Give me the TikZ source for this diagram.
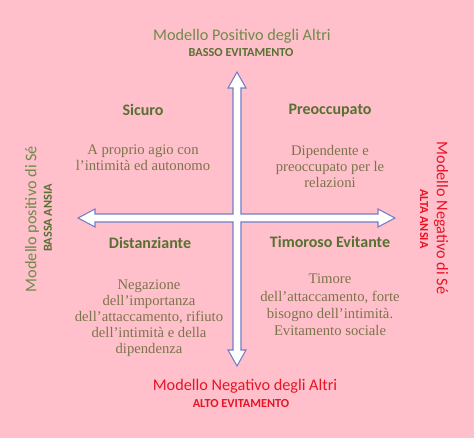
\documentclass[tikz,border=0pt]{standalone}
\usepackage{fontspec}
\setmainfont{Liberation Serif}
\setsansfont{Carlito}
\usetikzlibrary{positioning}
\definecolor{bgpink}{RGB}{255,192,203}
\definecolor{gpos}{RGB}{112,138,72}
\definecolor{gtitle}{RGB}{88,112,50}
\definecolor{gbody}{RGB}{124,116,74}
\definecolor{rneg}{RGB}{232,20,38}
\definecolor{axline}{RGB}{115,125,200}

\begin{document}
\begin{tikzpicture}[
        x=0.75pt, y=-0.75pt,
        axlbl/.style={font=\sffamily\fontsize{12.2}{14}\selectfont},
        axsub/.style={font=\sffamily\bfseries\fontsize{9.2}{10}\selectfont},
        qtitle/.style={font=\sffamily\bfseries\fontsize{12}{14}\selectfont, text=gtitle},
        qbody/.style={font=\fontsize{11}{12}\selectfont, text=gbody, align=center},
    ]
        % Background
        \fill[bgpink] (0,0) rectangle (474,438);
        \useasboundingbox (0,0) rectangle (474,438);

        % Cross of the two axes
        \draw[axline, fill=white, line width=0.8pt]
            (233,88) -- (228,88) -- (237,72) -- (246,88) -- (241,88) -- (241,214)
            -- (378,214) -- (378,209) -- (395,218) -- (378,227) -- (378,222) -- (241,222)
            -- (241,350) -- (246,350) -- (237,366) -- (228,350) -- (233,350) -- (233,222)
            -- (95,222) -- (95,227) -- (78,218) -- (95,209) -- (95,214) -- (233,214) -- cycle;

        % Axis labels (top / bottom)
        \node[axlbl, text=gpos] (POSALTRI) at (242,36) {Modello Positivo degli Altri};
        \node[axsub, text=gtitle] (BASSOEV) at (241,53) {BASSO EVITAMENTO};
        \node[axlbl, text=rneg] (NEGALTRI) at (245,386) {Modello Negativo degli Altri};
        \node[axsub, text=rneg] (ALTOEV) at (241,404) {ALTO EVITAMENTO};

        % Axis labels (left / right)
        \node[axlbl, text=gpos, rotate=90] (POSSE) at (32,219) {Modello positivo di Sé};
        \node[axsub, text=gtitle, rotate=90] (BASSAAN) at (48,218) {BASSA ANSIA};
        \node[axlbl, text=rneg, rotate=-90] (NEGSE) at (441,218) {Modello Negativo di Sé};
        \node[axsub, text=rneg, rotate=-90] (ALTAAN) at (424,219) {ALTA ANSIA};

        % Quadrants
        \node[qtitle] (SICURO) at (143,110) {Sicuro};
        \node[qbody] (SICUROTXT) at (143,158) {A proprio agio con\\l’intimità ed autonomo};

        \node[qtitle] (PREOC) at (330,111) {Preoccupato};
        \node[qbody] (PREOCTXT) at (330,166) {Dipendente e\\preoccupato per le\\relazioni};

        \node[qtitle] (DIST) at (150,243) {Distanziante};
        \node[qbody] (DISTTXT) at (149,318) {Negazione\\dell’importanza\\dell’attaccamento, rifiuto\\dell’intimità e della\\dipendenza};

        \node[qtitle] (TIMOR) at (330,242) {Timoroso Evitante};
        \node[qbody, font=\fontsize{11}{13}\selectfont] (TIMORTXT) at (330,305) {Timore\\dell’attaccamento, forte\\bisogno dell’intimità.\\Evitamento sociale};
    \end{tikzpicture}
\end{document}
